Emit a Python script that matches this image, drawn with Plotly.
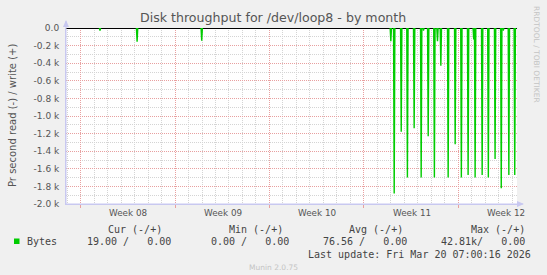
import plotly.graph_objects as go
from datetime import datetime, timedelta

# ---------------- data ----------------
spike_times = [
    "2026-02-17 10:30", "2026-02-20 04:30", "2026-02-24 23:30",
    "2026-03-11 00:00", "2026-03-11 06:00", "2026-03-11 18:30",
    "2026-03-12 05:30", "2026-03-12 17:30", "2026-03-13 06:00",
    "2026-03-13 10:00", "2026-03-13 18:30", "2026-03-14 05:30",
    "2026-03-14 11:00", "2026-03-14 17:00", "2026-03-15 06:00",
    "2026-03-15 18:30", "2026-03-16 05:30", "2026-03-16 17:30",
    "2026-03-17 03:30", "2026-03-17 06:00", "2026-03-17 18:30",
    "2026-03-18 05:30", "2026-03-18 17:30", "2026-03-19 04:30",
    "2026-03-19 08:00", "2026-03-19 18:00", "2026-03-20 04:30",
]
spike_read_bytes = [
    -30, -155, -145,
    -150, -1880, -1180,
    -1700, -1140, -1700,
    -30, -1230, -1700,
    -150, -430, -1700,
    -1320, -1700, -1670,
    -130, -1700, -1670,
    -1700, -1490, -1820,
    -30, -1670, -1670,
]
week_labels = ["Week 08", "Week 09", "Week 10", "Week 11", "Week 12"]
week_label_dates = ["2026-02-19 13:00", "2026-02-26 13:00", "2026-03-05 13:00",
                    "2026-03-12 13:00", "2026-03-19 13:00"]
y_tick_vals = [0, -200, -400, -600, -800, -1000, -1200, -1400, -1600, -1800, -2000]
y_tick_text = ["0.0", "-0.2 k", "-0.4 k", "-0.6 k", "-0.8 k", "-1.0 k",
               "-1.2 k", "-1.4 k", "-1.6 k", "-1.8 k", "-2.0 k"]
legend_headers = ["Cur (-/+)", "Min (-/+)", "Avg (-/+)", "Max (-/+)"]
legend_values = ["19.00 /   0.00", "0.00 /   0.00", "76.56 /   0.00", "42.81k/   0.00"]
x_start = "2026-02-14 22:00"
x_end = "2026-03-20 08:30"

# -------------- build spike line (gap-separated) --------------
xs, ys = [], []
for t, v in zip(spike_times, spike_read_bytes):
    c = datetime.strptime(t, "%Y-%m-%d %H:%M")
    half = timedelta(minutes=70)
    xs += [c - half, c, c + half, None]
    ys += [0, v, 0, None]

W, H = 547, 275
L, R, T, B = 66, 517, 28, 204


def px(x):
    return (x - L) / (R - L)


def py(y):
    return (B - y) / (B - T)


GREEN = "#00cc00"
TXT = "#555555"
MONO = "DejaVu Sans Mono"
SANS = "DejaVu Sans"

fig = go.Figure()
fig.add_trace(go.Scatter(x=xs, y=ys, mode="lines", connectgaps=False,
                         line=dict(color=GREEN, width=1.4), hoverinfo="skip",
                         showlegend=False))

fig.update_layout(
    width=W, height=H,
    margin=dict(l=L, r=W - R, t=T, b=H - B, pad=0),
    paper_bgcolor="#f0f0f0", plot_bgcolor="#ffffff",
    showlegend=False,
    xaxis=dict(
        type="date", range=[x_start, x_end],
        tick0="2026-02-16", dtick=7 * 86400000,
        showticklabels=False, ticks="outside", ticklen=3, tickcolor="#e8a0a0",
        showgrid=True, gridcolor="#e8a0a0", griddash="1px,1px", gridwidth=1,
        minor=dict(tick0="2026-02-16", dtick=86400000, showgrid=True,
                   gridcolor="#d4d4d4", griddash="1px,1px", gridwidth=1),
        showline=True, linecolor="#c8c8f0", linewidth=1,
        zeroline=False, fixedrange=True,
    ),
    yaxis=dict(
        range=[-2000, 0], tickvals=y_tick_vals, ticktext=y_tick_text,
        tickfont=dict(family=SANS, size=9, color=TXT),
        ticks="", ticklabelstandoff=4,
        showgrid=True, gridcolor="#e8a0a0", griddash="1px,1px", gridwidth=1,
        minor=dict(dtick=100, tick0=0, showgrid=True, gridcolor="#d4d4d4",
                   griddash="1px,1px", gridwidth=1),
        showline=True, linecolor="#c8c8f0", linewidth=1,
        zeroline=True, zerolinecolor="#000000", zerolinewidth=1,
        fixedrange=True,
    ),
)

ann = []
# title
ann.append(dict(text="Disk throughput for /dev/loop8 - by month", x=px(273), y=py(18),
                xref="paper", yref="paper", xanchor="center", yanchor="middle",
                showarrow=False, font=dict(family=SANS, size=12.6, color="#555555")))
# y axis title
ann.append(dict(text="Pr second read (-) / write (+)", x=px(12), y=py(116),
                xref="paper", yref="paper", xanchor="center", yanchor="middle",
                textangle=-90, showarrow=False,
                font=dict(family=SANS, size=10, color=TXT)))
# rrdtool credit
ann.append(dict(text="RRDTOOL / TOBI OETIKER", x=px(537), y=py(54),
                xref="paper", yref="paper", xanchor="center", yanchor="middle",
                textangle=90, showarrow=False,
                font=dict(family=SANS, size=7.5, color="#c4c4c4")))
# week labels
for lab, d in zip(week_labels, week_label_dates):
    ann.append(dict(text=lab, x=d, y=py(213), xref="x", yref="paper",
                    xanchor="center", yanchor="middle", showarrow=False,
                    font=dict(family=SANS, size=8.8, color=TXT)))
# legend
hdr_right = [164, 285, 405, 527]
val_right = [173, 291, 409, 527]
for h, xr in zip(legend_headers, hdr_right):
    ann.append(dict(text=h.replace(" ", "\u00a0"), x=px(xr), y=py(229),
                    xref="paper", yref="paper", xanchor="right", yanchor="middle",
                    showarrow=False, font=dict(family=MONO, size=10, color="#444444")))
for v, xr in zip(legend_values, val_right):
    ann.append(dict(text=v.replace(" ", "\u00a0"), x=px(xr), y=py(241.5),
                    xref="paper", yref="paper", xanchor="right", yanchor="middle",
                    showarrow=False, font=dict(family=MONO, size=10, color="#444444")))
ann.append(dict(text="Bytes", x=px(25), y=py(241.5), xref="paper", yref="paper",
                xanchor="left", yanchor="middle", showarrow=False,
                font=dict(family=MONO, size=10, color="#444444")))
ann.append(dict(text="Last update: Fri Mar 20 07:00:16 2026".replace(" ", "\u00a0"),
                x=px(533), y=py(254.5), xref="paper", yref="paper",
                xanchor="right", yanchor="middle", showarrow=False,
                font=dict(family=MONO, size=10, color="#444444")))
ann.append(dict(text="Munin 2.0.75", x=px(273), y=py(267), xref="paper", yref="paper",
                xanchor="center", yanchor="middle", showarrow=False,
                font=dict(family=SANS, size=7.5, color="#c4c4c4")))
fig.update_layout(annotations=ann)

shapes = []
# legend swatch
shapes.append(dict(type="rect", xref="paper", yref="paper",
                   x0=px(14), x1=px(19.5), y0=py(244), y1=py(238.5),
                   fillcolor=GREEN, line=dict(width=0)))
# axis arrows
shapes.append(dict(type="line", xref="paper", yref="paper",
                   x0=px(66), x1=px(66), y0=py(204), y1=py(21),
                   line=dict(color="#c8c8f0", width=1)))
shapes.append(dict(type="path", xref="paper", yref="paper",
                   path=f"M {px(63)} {py(27)} L {px(69)} {py(27)} L {px(66)} {py(20)} Z",
                   fillcolor="#c8c8f0", line=dict(width=0)))
shapes.append(dict(type="line", xref="paper", yref="paper",
                   x0=px(66), x1=px(523), y0=py(204), y1=py(204),
                   line=dict(color="#c8c8f0", width=1)))
shapes.append(dict(type="path", xref="paper", yref="paper",
                   path=f"M {px(517)} {py(201)} L {px(517)} {py(207)} L {px(524)} {py(204)} Z",
                   fillcolor="#c8c8f0", line=dict(width=0)))
fig.update_layout(shapes=shapes)

fig.write_html("out.html")
